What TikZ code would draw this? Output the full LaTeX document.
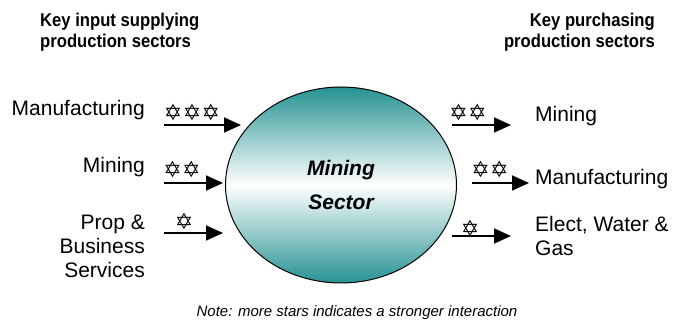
\documentclass[tikz,border=0pt]{standalone}
\usepackage{fontspec}
\setmainfont{Liberation Sans}
\newfontfamily\starfont{DejaVu Sans}
\newfontfamily\headfont[FakeStretch=0.9]{Liberation Sans}
\usetikzlibrary{shapes.geometric,arrows.meta}
\definecolor{sectorteal}{RGB}{38,146,146}
\newcommand{\staronly}{✡}
\begin{document}
\begin{tikzpicture}[x=1pt,y=-1pt,
  heading/.style={font=\headfont\fontsize{18.5}{21}\selectfont\bfseries,inner sep=0pt},
  label/.style={font=\fontsize{21}{24}\selectfont,inner sep=0pt},
  stars/.style={font=\starfont\fontsize{22}{22}\selectfont\bfseries,inner sep=0pt},
  link/.style={line width=1.8pt,-{Triangle[length=17pt,width=15pt]}}]
  \useasboundingbox (0,0) rectangle (673,320);
  % headings
  \node[heading,anchor=north west,align=left] (supplyhead) at (40,12.5)
    {Key input supplying\\production sectors};
  \node[heading,anchor=north east,align=right] (buyhead) at (655,12.5)
    {Key purchasing\\production sectors};
  % the sector
  \node[ellipse,draw,line width=1pt,minimum width=231pt,minimum height=196pt,
    top color=sectorteal,bottom color=sectorteal,middle color=white,
    font=\fontsize{21}{34}\selectfont\bfseries\itshape,align=center]
    (sector) at (341,185) {Mining\\Sector};
  % inputs
  \node[label,anchor=base east] (inmanu) at (145,116) {Manufacturing};
  \node[label,anchor=base east] (inmine) at (145,173) {Mining};
  \node[label,anchor=north east,align=right] (inprop) at (145,214.5)
    {Prop \&\\Business\\Services};
  \coordinate (inmanu-a) at (164,125); \coordinate (inmanu-b) at (241,125);
  \coordinate (inmine-a) at (164,183); \coordinate (inmine-b) at (223,183);
  \coordinate (inprop-a) at (164,233); \coordinate (inprop-b) at (223,233);
  \draw[link] (inmanu-a) -- (inmanu-b);
  \draw[link] (inmine-a) -- (inmine-b);
  \draw[link] (inprop-a) -- (inprop-b);
  \node[stars] (inmanu-s) at (192,112) {\staronly\kern0.5pt\staronly\kern0.5pt\staronly};
  \node[stars] (inmine-s) at (182,169) {\staronly\kern0.5pt\staronly};
  \node[stars] (inprop-s) at (184,221) {\staronly};
  % outputs
  \node[label,anchor=base west] (outmine) at (535,122) {Mining};
  \node[label,anchor=base west] (outmanu) at (535,185) {Manufacturing};
  \node[label,anchor=north west,align=left] (outelec) at (535,216.5)
    {Elect, Water \&\\Gas};
  \coordinate (outmine-a) at (452,125); \coordinate (outmine-b) at (511,125);
  \coordinate (outmanu-a) at (472,183); \coordinate (outmanu-b) at (529,183);
  \coordinate (outelec-a) at (452,236); \coordinate (outelec-b) at (511,236);
  \draw[link] (outmine-a) -- (outmine-b);
  \draw[link] (outmanu-a) -- (outmanu-b);
  \draw[link] (outelec-a) -- (outelec-b);
  \node[stars] (outmine-s) at (468,112) {\staronly\kern0.5pt\staronly};
  \node[stars] (outmanu-s) at (490,169) {\staronly\kern0.5pt\staronly};
  \node[stars] (outelec-s) at (470,228) {\staronly};
  % note
  \node[font=\fontsize{15}{18}\selectfont\itshape,anchor=base,inner sep=0pt]
    (note) at (357,317) {Note: more stars indicates a stronger interaction};
\end{tikzpicture}
\end{document}
